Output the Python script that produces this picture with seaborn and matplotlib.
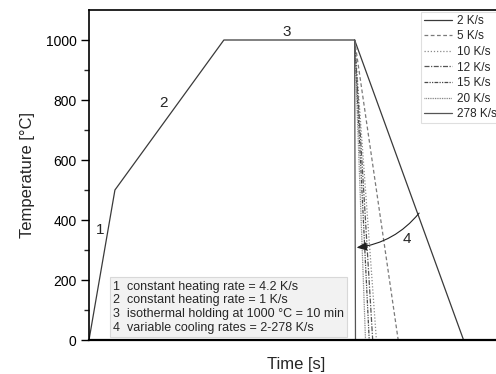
import matplotlib
matplotlib.use("Agg")
import matplotlib.pyplot as plt
import seaborn as sns
import pandas as pd

# ---- data ----
profile_time = [0, 119, 619, 1219]          # s
profile_temp = [0, 500, 1000, 1000]         # °C
cool_start_time = 1219
cool_start_temp = 1000
rate_labels = ["2 K/s", "5 K/s", "10 K/s", "12 K/s", "15 K/s", "20 K/s", "278 K/s"]
cool_end_time = [1719, 1419, 1319, 1302, 1286, 1269, 1223]   # s at 0 °C
y_ticks = [0, 200, 400, 600, 800, 1000]
stage_labels = ["1", "2", "3", "4"]
stage_text = ["1  constant heating rate = 4.2 K/s",
              "2  constant heating rate = 1 K/s",
              "3  isothermal holding at 1000 °C = 10 min",
              "4  variable cooling rates = 2-278 K/s"]

# ---- styles ----
styles = {
    "2 K/s":   dict(color="#3a3a3a", ls="-"),
    "5 K/s":   dict(color="#7a7a7a", ls=(0, (3, 2))),
    "10 K/s":  dict(color="#8a8a8a", ls=(0, (1, 1.5))),
    "12 K/s":  dict(color="#555555", ls=(0, (4, 1.2, 1, 1.2))),
    "15 K/s":  dict(color="#4a4a4a", ls=(0, (3, 1, 1, 1, 1, 1))),
    "20 K/s":  dict(color="#777777", ls=(0, (0.7, 0.7))),
    "278 K/s": dict(color="#555555", ls="-"),
}

sns.set_style("ticks")
plt.rcParams["font.family"] = ["Liberation Sans", "DejaVu Sans"]

fig = plt.figure(figsize=(4.96, 3.74), dpi=100)
ax = fig.add_axes([89 / 496, 34 / 374, 414 / 496, 330 / 374])

prof = pd.DataFrame({"t": profile_time, "T": profile_temp})
sns.lineplot(data=prof, x="t", y="T", ax=ax, color="#3a3a3a", lw=0.9,
             estimator=None, sort=False)

for lab, te in zip(rate_labels, cool_end_time):
    d = pd.DataFrame({"t": [cool_start_time, te], "T": [cool_start_temp, 0]})
    st = styles[lab]
    sns.lineplot(data=d, x="t", y="T", ax=ax, color=st["color"], linestyle=st["ls"],
                 lw=0.9, label=lab, estimator=None, sort=False)

ax.set_xlim(0, 1900)
ax.set_ylim(0, 1100)
ax.set_yticks(y_ticks)
ax.set_yticks(range(100, 1100, 200), minor=True)
ax.set_xticks([])
ax.tick_params(axis="y", which="major", direction="out", length=6, width=1,
               labelsize=10, pad=3, colors="black")
ax.tick_params(axis="y", which="minor", direction="out", length=3.5, width=1)
for s in ["left", "top"]:
    ax.spines[s].set_linewidth(1.2)
    ax.spines[s].set_color("black")
ax.spines["bottom"].set_linewidth(1.6)
ax.spines["bottom"].set_color("black")
ax.spines["right"].set_visible(False)

ax.set_xlabel("Time [s]", fontsize=12)
ax.set_ylabel("Temperature [°C]", fontsize=12)
ax.xaxis.set_label_coords(0.5, -0.052)
ax.yaxis.set_label_coords(-0.13, 0.5)

# stage numbers
ax.text(50, 367, stage_labels[0], fontsize=11, ha="center", va="center")
ax.text(340, 790, stage_labels[1], fontsize=11, ha="center", va="center")
ax.text(908, 1027, stage_labels[2], fontsize=11, ha="center", va="center")
ax.text(1459, 337, stage_labels[3], fontsize=11, ha="center", va="center")

# curved arrow across cooling curves
ax.annotate("", xy=(1228, 308), xytext=(1515, 423),
            arrowprops=dict(arrowstyle="-|>,head_length=0.6,head_width=0.25",
                            color="#222222", lw=0.8, mutation_scale=10,
                            shrinkA=0, shrinkB=0,
                            connectionstyle="arc3,rad=-0.2"))

# description box
ax.text((113 - 89) / 414, (340 - 334) / 330, "\n".join(stage_text),
        transform=ax.transAxes, fontsize=9, ha="left", va="bottom",
        linespacing=1.2,
        bbox=dict(boxstyle="square,pad=0.25", facecolor="#f2f2f2",
                  edgecolor="#d8d8d8", lw=0.8))

leg = ax.legend(loc="upper left", bbox_to_anchor=((421 - 89) / 414, (340 - 12) / 330),
                fontsize=8.5, frameon=True, fancybox=False, handlelength=2.4,
                handletextpad=0.4, labelspacing=0.3, borderpad=0.25,
                borderaxespad=0)
leg.get_frame().set_edgecolor("#d8d8d8")
leg.get_frame().set_linewidth(0.8)

fig.savefig("out.png", dpi=100)
